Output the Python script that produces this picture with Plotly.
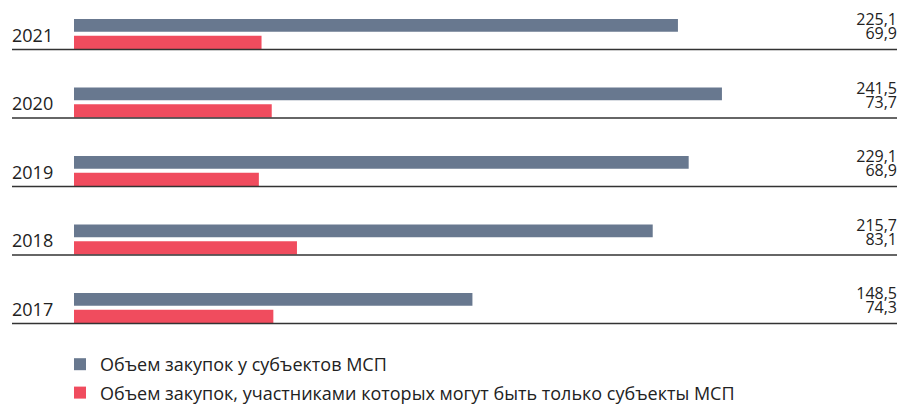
import plotly.graph_objects as go

years = ["2021", "2020", "2019", "2018", "2017"]
total_smb = [225.1, 241.5, 229.1, 215.7, 148.5]
only_smb = [69.9, 73.7, 68.9, 83.1, 74.3]
labels_total = ["225,1", "241,5", "229,1", "215,7", "148,5"]
labels_only = ["69,9", "73,7", "68,9", "83,1", "74,3"]
series_names = [
    "Объем закупок у субъектов МСП",
    "Объем закупок, участниками которых могут быть только субъекты МСП",
]

GRAY = "#68788f"
RED = "#f04c5e"
TEXT = "#222222"
FONT = "Open Sans, Roboto, DejaVu Sans, sans-serif"

W, H = 901, 405
ml = 74
right_edge = 897
mr = W - right_edge
mt = 0
plot_bottom = 340
mb = H - plot_bottom
plot_w = W - ml - mr
plot_h = H - mt - mb
unit_px = 68.5
px_per_val = 2.683
first_line = 49.5
n = len(years)
y_top = (n - 1) + first_line / unit_px
y_bot = y_top - plot_h / unit_px
x_max = plot_w / px_per_val
x_left_paper = (12 - ml) / plot_w

line_y = [n - 1 - i for i in range(n)]  # baseline of each year group
gray_y = [v + 0.353 for v in line_y]
red_y = [v + 0.105 for v in line_y]

fig = go.Figure()
fig.add_trace(go.Bar(
    x=total_smb, y=gray_y, orientation="h", width=0.185,
    marker=dict(color=GRAY, line=dict(width=0)), name=series_names[0],
    legendgroup="a", hoverinfo="skip",
))
fig.add_trace(go.Bar(
    x=only_smb, y=red_y, orientation="h", width=0.194,
    marker=dict(color=RED, line=dict(width=0)), name=series_names[1],
    legendgroup="b", hoverinfo="skip",
))

# value labels (right aligned at the right edge of the plot)
fig.add_trace(go.Scatter(
    x=[x_max] * n, y=[v + 0.416 for v in line_y], mode="text", text=labels_total,
    textposition="middle left", cliponaxis=False, showlegend=False, hoverinfo="skip",
    textfont=dict(family=FONT, size=16, color=TEXT),
))
fig.add_trace(go.Scatter(
    x=[x_max] * n, y=[v + 0.205 for v in line_y], mode="text", text=labels_only,
    textposition="middle left", cliponaxis=False, showlegend=False, hoverinfo="skip",
    textfont=dict(family=FONT, size=16, color=TEXT),
))

shapes = []
annotations = []
for i in range(n):
    shapes.append(dict(type="line", xref="paper", yref="y",
                       x0=x_left_paper, x1=1.0, y0=line_y[i], y1=line_y[i],
                       line=dict(color="#333333", width=1.6)))
    annotations.append(dict(xref="paper", yref="y", x=x_left_paper, y=line_y[i] + 0.215,
                            text=years[i], showarrow=False, xanchor="left", yanchor="middle",
                            xshift=-2,
                            font=dict(family=FONT, size=18, color=TEXT)))

fig.update_layout(
    width=W, height=H,
    margin=dict(l=ml, r=mr, t=mt, b=mb, pad=0, autoexpand=False),
    paper_bgcolor="white", plot_bgcolor="white",
    barmode="overlay",
    xaxis=dict(range=[0, x_max], visible=False, fixedrange=True),
    yaxis=dict(range=[y_bot, y_top], visible=False, fixedrange=True),
    shapes=shapes, annotations=annotations,
    showlegend=True,
    legend=dict(orientation="v", x=(60 - ml) / plot_w, xanchor="left",
                y=(plot_h - 346) / plot_h, yanchor="top",
                font=dict(family=FONT, size=18, color=TEXT),
                bgcolor="rgba(0,0,0,0)", borderwidth=0, traceorder="grouped",
                tracegroupgap=2),
)

fig.write_html(
    "out.html",
    config={"displayModeBar": False, "staticPlot": True},
    post_script="document.body.style.margin='0';document.body.style.overflow='hidden';",
)
